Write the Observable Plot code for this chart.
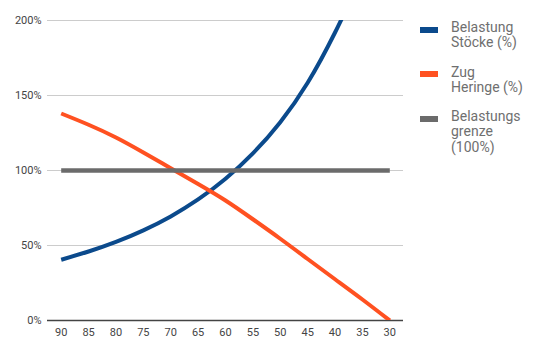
<!DOCTYPE html>
<html>
<head>
<meta charset="utf-8">
<script src="https://cdn.jsdelivr.net/npm/d3@7"></script>
<script src="https://cdn.jsdelivr.net/npm/@observablehq/plot@0.6"></script>
<style>
  html, body { margin: 0; padding: 0; background: #fff; }
  #wrap { position: relative; width: 541px; height: 352px; font-family: Roboto, sans-serif; }
  #legend { position: absolute; left: 420px; top: 0; }
  .item { position: absolute; left: 0; width: 120px; }
  .sw { position: absolute; left: 0; width: 18px; height: 6px; }
  .lab { position: absolute; left: 31px; font-size: 14px; line-height: 15.3px; color: #6f6f6f; white-space: nowrap; }
</style>
</head>
<body>
<div id="wrap"><div id="chart"></div><div id="legend"></div></div>
<script>
// Categories on the x axis (reversed, 90 → 30)
const categories = [90, 85, 80, 75, 70, 65, 60, 55, 50, 45, 40, 35, 30];
// Series values (%)
const belastungStoecke = [40.5, 46, 52.4, 60.1, 69.4, 80.7, 94.5, 111.4, 132.2, 158.5, 192, 232, 280];
const zugHeringe       = [138, 130.5, 122, 112, 101.5, 91, 80, 67.5, 54.5, 41, 27.5, 14, 0];
const belastungsgrenze = [100, 100, 100, 100, 100, 100, 100, 100, 100, 100, 100, 100, 100];
const yTicks = [0, 50, 100, 150, 200];
const seriesNames = ["Belastung\nStöcke (%)", "Zug\nHeringe (%)", "Belastungs\ngrenze\n(100%)"];
const colors = ["#0b4a8c", "#ff5121", "#6b6b6b"];

const toRows = (vals, s) => categories.map((c, i) => ({x: c, y: vals[i], s}));
const blue = toRows(belastungStoecke, seriesNames[0]);
const orange = toRows(zugHeringe, seriesNames[1]);
const gray = toRows(belastungsgrenze, seriesNames[2]);

const chart = Plot.plot({
  width: 541,
  height: 352,
  marginLeft: 47,
  marginRight: 138,
  marginTop: 20,
  marginBottom: 32,
  style: {fontFamily: "Roboto, sans-serif", fontSize: "11px", color: "#444", background: "#fff"},
  x: {domain: [92.5, 27.5], ticks: categories},
  y: {domain: [0, 200], ticks: yTicks},
  marks: [
    Plot.ruleY(yTicks.filter(d => d > 0), {stroke: "#cccccc", strokeWidth: 1}),
    Plot.ruleY([0], {stroke: "#444", strokeWidth: 1.6}),
    Plot.axisY({ticks: yTicks, tickSize: 0, tickPadding: 6, tickFormat: d => d + "%", label: null, fill: "#444"}),
    Plot.axisX({ticks: categories, tickSize: 0, tickPadding: 8, label: null, fill: "#444"}),
    Plot.line(blue, {x: "x", y: "y", stroke: colors[0], strokeWidth: 4, curve: "natural", clip: true, strokeLinecap: "butt"}),
    Plot.line(orange, {x: "x", y: "y", stroke: colors[1], strokeWidth: 4, curve: "natural", clip: true, strokeLinecap: "butt"}),
    Plot.line(gray, {x: "x", y: "y", stroke: colors[2], strokeWidth: 4.5, strokeLinecap: "butt"})
  ]
});
document.getElementById("chart").appendChild(chart);

// Legend
const legend = document.getElementById("legend");
const itemTops = [20, 64.5, 109];
seriesNames.forEach((name, i) => {
  const it = document.createElement("div");
  it.className = "item";
  it.style.top = itemTops[i] + "px";
  const sw = document.createElement("div");
  sw.className = "sw";
  sw.style.background = colors[i];
  sw.style.top = "6.5px";
  const lab = document.createElement("div");
  lab.className = "lab";
  lab.style.top = "0px";
  lab.innerHTML = name.split("\n").join("<br>");
  it.appendChild(sw);
  it.appendChild(lab);
  legend.appendChild(it);
});
</script>
</body>
</html>
